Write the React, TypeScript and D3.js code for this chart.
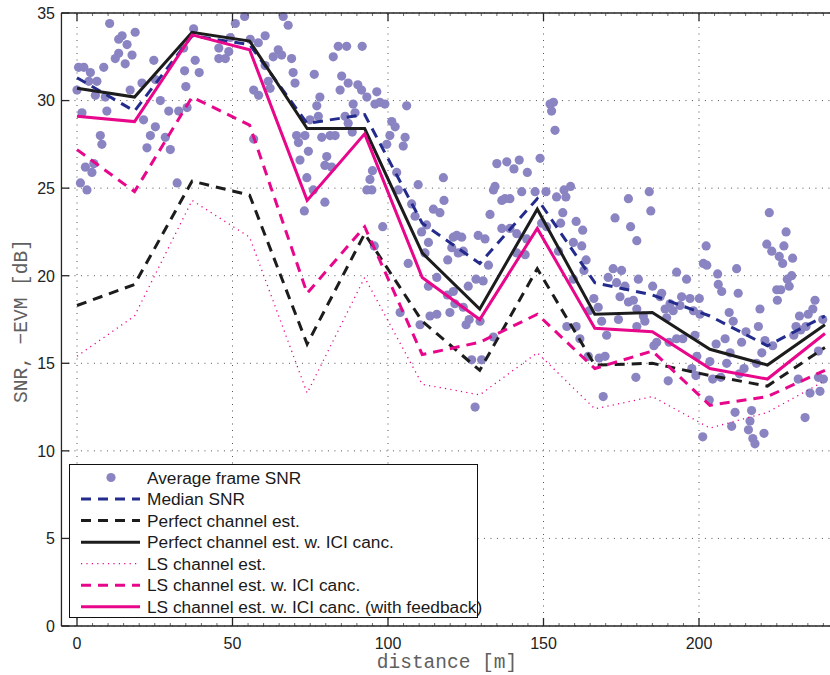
import React, { useEffect, useRef } from "react";
import * as d3 from "d3";

// measurement positions along the route [m]
const distances = [0, 18.5, 37, 55.5, 74, 92.5, 111, 129.5, 148, 166.5, 185, 203.5, 222, 240.5];

const medianSnr = [31.3, 29.4, 33.7, 33.2, 28.7, 29.2, 23.0, 20.7, 24.4, 19.6, 18.9, 17.7, 16.0, 17.7];
const perfectEst = [18.3, 19.5, 25.4, 24.6, 16.1, 22.4, 17.4, 14.6, 20.4, 14.9, 15.0, 14.3, 13.7, 15.9];
const perfectIci = [30.7, 30.2, 33.9, 33.4, 28.4, 28.4, 21.3, 18.1, 23.8, 17.8, 17.9, 15.8, 14.9, 17.2];
const lsEst = [15.4, 17.7, 24.3, 22.2, 13.3, 19.9, 13.8, 13.2, 15.6, 12.4, 13.1, 11.3, 12.2, 14.0];
const lsIci = [27.2, 24.8, 30.2, 28.6, 19.0, 22.8, 15.5, 16.2, 17.8, 14.7, 15.7, 12.6, 13.1, 14.6];
const lsIciFeedback = [29.1, 28.8, 33.75, 32.9, 24.3, 28.1, 19.9, 17.5, 22.7, 17.0, 16.8, 14.7, 14.1, 16.7];

// average frame SNR, [distance, snr]
const frameSnr: [number, number][] = [
  [10.5, 34.4], [18.7, 33.9], [14.5, 33.7], [13.4, 33.5], [16.1, 33.2], [13.4, 32.7], [17.7, 32.6],
  [12.3, 32.4], [15.5, 32.1], [0.5, 31.9], [2.2, 31.9], [8.6, 31.9], [4.3, 31.6], [6.4, 31.1],
  [3.8, 31.1], [0, 30.6], [5.9, 30.3], [9.1, 30.2], [1.6, 29.3], [9.6, 29.4], [7.5, 28.0],
  [8.0, 27.5], [2.7, 26.2], [5.4, 26.4], [4.8, 25.9], [1.1, 25.3], [3.2, 24.9], [17.1, 30.6],
  [20.9, 31.0], [24.7, 32.3], [25.2, 31.2], [26.8, 30.0], [21.4, 28.9], [25.2, 28.5], [23.6, 28.0],
  [22.5, 27.3], [28.4, 27.9], [30.0, 27.2], [29.5, 29.4], [32.7, 29.4], [35.4, 29.6], [32.2, 25.3],
  [34.6, 31.7], [35.0, 30.8], [38.0, 32.3], [39.3, 31.6], [37.5, 34.1], [34.3, 33.0], [45.6, 32.4],
  [47.7, 32.4], [45.6, 33.0], [48.8, 32.8], [50.9, 34.4], [53.9, 34.8], [49.3, 33.6], [55.7, 33.5],
  [56.8, 30.6], [58.4, 30.3], [56.8, 27.8],
  [66.3, 34.8], [67.9, 34.3], [60.5, 33.7], [58.3, 33.3], [64.7, 32.9], [63.1, 32.5], [65.8, 32.6],
  [69.0, 32.4], [60.5, 32.0], [69.5, 31.6], [76.3, 31.5], [70.1, 31.0], [61.5, 31.1], [62.1, 30.7],
  [84.0, 33.1], [86.7, 33.1], [91.7, 33.1], [82.4, 32.5], [85.1, 31.4], [87.2, 31.0], [84.6, 30.6],
  [90.3, 30.9], [91.5, 30.6], [93.2, 30.2], [96.4, 30.5], [97.4, 29.9], [95.8, 29.8], [99.0, 29.8],
  [106.0, 29.7], [88.8, 29.8], [78.1, 30.2], [77.1, 29.7], [89.4, 29.3], [86.2, 29.1], [77.6, 29.1],
  [74.9, 28.9], [87.2, 28.7], [101.2, 28.8], [102.3, 28.5], [100.6, 28.0], [105.5, 27.9], [104.9, 27.4],
  [99.6, 27.5], [70.6, 28.0], [73.3, 28.0], [71.2, 27.6], [78.7, 27.9], [81.4, 28.0], [83.0, 28.0],
  [88.5, 28.2], [74.4, 27.1], [71.7, 26.6], [80.3, 26.8], [79.7, 26.3], [81.9, 26.2], [95.0, 26.0],
  [94.2, 25.5], [93.2, 24.9], [94.8, 24.9], [73.9, 25.6], [76.0, 24.9], [79.7, 24.2], [73.1, 23.7],
  [102.8, 25.9], [109.7, 25.2], [117.8, 25.6], [103.3, 24.9], [118.0, 24.3], [107.6, 24.1],
  [108.7, 23.4], [114.6, 23.8], [116.7, 23.6], [112.4, 22.9], [110.8, 22.5], [113.0, 21.9],
  [111.9, 21.3], [121.0, 22.2], [98.3, 22.8], [95.6, 21.7], [106.5, 20.7], [119.2, 20.9],
  [115.7, 19.9], [113.0, 19.4], [119.9, 17.9], [115.7, 17.8], [113.5, 17.7], [110.3, 17.2], [103.9, 17.9],
  [153.2, 29.9], [152.1, 29.8], [152.6, 29.4], [153.7, 28.3], [148.9, 26.7], [142.2, 26.6],
  [138.2, 26.5], [135.0, 26.4], [140.5, 26.1], [144.8, 25.9], [134.4, 25.1], [133.9, 24.9],
  [143.0, 24.8], [147.3, 24.8], [150.8, 24.8], [156.6, 24.9], [158.7, 25.1], [154.2, 24.5],
  [157.2, 24.5], [136.6, 24.3], [139.2, 24.4], [137.6, 24.4], [132.8, 23.5], [156.2, 23.6],
  [155.5, 23.0], [160.5, 23.1], [162.6, 22.6], [177.3, 24.4], [173.0, 23.3], [178.0, 22.8],
  [180.0, 22.0], [136.6, 22.7], [139.2, 22.7], [129.0, 22.3], [131.2, 22.1], [122.1, 22.3],
  [123.7, 22.2], [120.5, 21.6], [124.2, 21.4], [122.6, 21.3], [141.4, 22.4], [144.6, 22.1],
  [141.4, 21.3], [144.1, 21.2], [149.4, 23.0], [151.0, 22.8], [154.8, 21.4], [159.6, 21.9],
  [162.3, 21.7], [163.7, 20.9], [163.0, 20.3], [159.6, 19.8], [132.3, 20.6], [128.3, 19.8],
  [130.6, 19.7], [125.8, 19.4], [121.0, 19.1], [119.1, 18.9], [121.5, 18.4], [124.2, 18.2],
  [126.1, 17.5], [125.1, 17.2], [129.6, 17.4], [133.9, 16.5], [126.9, 15.2], [130.1, 15.2],
  [128.0, 12.5], [172.4, 20.4], [175.1, 20.3], [170.8, 19.9], [173.5, 19.6], [176.2, 19.4],
  [174.6, 18.8], [177.3, 18.5], [178.9, 18.6], [180.5, 19.8], [166.2, 18.7], [167.6, 18.2],
  [164.7, 18.0], [157.5, 17.1], [160.5, 17.1], [161.7, 16.4], [164.4, 15.4], [167.9, 15.3],
  [169.8, 15.4], [170.3, 16.6], [168.7, 17.4], [174.1, 17.5], [179.7, 14.2], [169.2, 13.1], [180.0, 17.1],
  [184.0, 24.8], [184.5, 23.7], [222.6, 23.6], [228.0, 22.5], [221.8, 21.8], [223.4, 21.4],
  [227.3, 21.7], [225.8, 21.1], [226.9, 20.7], [230.1, 21.0], [202.3, 21.7], [201.4, 20.7],
  [202.5, 20.6], [212.1, 20.4], [206.0, 20.1], [192.8, 20.2], [196.0, 19.8], [185.1, 19.4],
  [206.2, 19.5], [207.3, 19.1], [212.6, 19.0], [229.8, 20.0], [229.0, 19.4], [228.4, 19.8],
  [225.0, 19.2], [226.3, 19.2], [225.2, 18.6], [188.0, 19.0], [187.5, 18.8], [194.4, 18.8],
  [197.1, 18.7], [200.1, 18.7], [190.7, 18.4], [191.7, 18.0], [189.1, 18.1], [193.9, 18.3],
  [198.2, 18.0], [180.0, 18.1], [182.1, 17.7], [200.3, 17.8], [209.7, 17.9], [211.0, 17.4],
  [189.6, 17.6], [182.6, 17.4], [237.3, 18.6], [236.6, 18.1], [235.1, 17.8], [232.3, 17.7],
  [239.8, 17.5], [231.2, 17.1], [234.4, 17.1], [232.7, 16.9], [219.6, 18.1], [219.1, 17.1],
  [198.7, 16.6], [192.8, 16.4], [194.8, 16.4], [186.4, 16.2], [185.5, 16.0], [190.4, 16.2],
  [215.1, 16.8], [213.7, 16.2], [205.5, 16.1], [221.2, 16.3], [223.7, 16.0], [230.5, 16.6],
  [208.4, 16.4], [210.0, 15.6], [220.2, 15.6], [199.3, 15.4], [208.9, 15.0], [203.5, 15.1],
  [218.5, 15.0], [214.5, 14.7], [238.4, 15.7], [238.4, 14.2], [240.0, 14.1], [231.9, 14.1],
  [197.7, 14.7], [199.0, 14.3], [204.4, 14.1], [207.0, 14.2], [213.0, 14.4], [190.1, 14.0],
  [235.7, 13.3], [238.9, 13.4], [203.3, 12.9], [216.9, 12.3], [211.6, 12.2], [216.4, 11.7],
  [210.5, 11.4], [215.9, 11.2], [217.3, 10.7], [220.9, 11.0], [218.0, 10.4], [201.2, 10.8], [234.1, 11.9],
];

const xTicks = [0, 50, 100, 150, 200];
const yTicks = [0, 5, 10, 15, 20, 25, 30, 35];

const PINK = "#e8068a";
const NAVY = "#232c8c";
const BLACK = "#1c1c1c";
const DOT = "#8a84c2";

const seriesDefs = [
  { name: "Median SNR", values: medianSnr, color: NAVY, width: 3, dash: "10,7" },
  { name: "Perfect channel est.", values: perfectEst, color: BLACK, width: 3, dash: "10,7" },
  { name: "Perfect channel est. w. ICI canc.", values: perfectIci, color: BLACK, width: 3, dash: null },
  { name: "LS channel est.", values: lsEst, color: PINK, width: 1.3, dash: "1.2,4.2" },
  { name: "LS channel est. w. ICI canc.", values: lsIci, color: PINK, width: 3, dash: "10,7" },
  { name: "LS channel est. w. ICI canc. (with feedback)", values: lsIciFeedback, color: PINK, width: 3, dash: null },
];

const FONT = "'Liberation Sans', Arial, Helvetica, sans-serif";
const MONO = "'Courier New', 'Liberation Mono', monospace";

const drawChart = (node: SVGSVGElement) => {
  const svg = d3.select(node);
  svg.selectAll("*").remove();

  const x = d3.scaleLinear().domain([-5, 245]).range([61.45, 838.95]);
  const y = d3.scaleLinear().domain([0, 35]).range([626, 13]);
  const [left, right] = x.range();

  // grid
  const grid = svg.append("g").attr("stroke", "#555").attr("stroke-width", 1).attr("stroke-dasharray", "1,5.5");
  xTicks.forEach(t => {
    grid.append("line").attr("x1", x(t)).attr("x2", x(t)).attr("y1", y(0)).attr("y2", y(35));
  });
  yTicks.forEach(t => {
    grid.append("line").attr("x1", left).attr("x2", right).attr("y1", y(t)).attr("y2", y(t));
  });

  // scatter
  svg
    .append("g")
    .selectAll("circle")
    .data(frameSnr)
    .enter()
    .append("circle")
    .attr("cx", d => x(d[0]))
    .attr("cy", d => y(d[1]))
    .attr("r", 4.6)
    .attr("fill", DOT);

  const line = d3
    .line<number>()
    .x((_, i) => x(distances[i]))
    .y(d => y(d));

  seriesDefs.forEach(s => {
    svg
      .append("path")
      .attr("d", line(s.values))
      .attr("fill", "none")
      .attr("stroke", s.color)
      .attr("stroke-width", s.width)
      .attr("stroke-dasharray", s.dash)
      .attr("stroke-linejoin", "miter");
  });

  // axes box
  const axis = svg.append("g").attr("stroke", "#262626").attr("stroke-width", 1.3);
  axis.append("line").attr("x1", left).attr("x2", right).attr("y1", y(0)).attr("y2", y(0));
  axis.append("line").attr("x1", left).attr("x2", right).attr("y1", y(35)).attr("y2", y(35));
  axis.append("line").attr("x1", left).attr("x2", left).attr("y1", y(0)).attr("y2", y(35));

  d3.range(-5, 246, 5).forEach(t => {
    const major = xTicks.includes(t);
    const len = major ? 8 : 3;
    axis.append("line").attr("x1", x(t)).attr("x2", x(t)).attr("y1", y(0)).attr("y2", y(0) - len)
      .attr("stroke-width", major ? 1.3 : 0.7);
    axis.append("line").attr("x1", x(t)).attr("x2", x(t)).attr("y1", y(35)).attr("y2", y(35) + len)
      .attr("stroke-width", major ? 1.3 : 0.7);
  });
  yTicks.forEach(t => {
    axis.append("line").attr("x1", left).attr("x2", left + 8).attr("y1", y(t)).attr("y2", y(t));
  });

  // tick labels
  svg
    .append("g")
    .selectAll("text")
    .data(yTicks)
    .enter()
    .append("text")
    .attr("x", 55)
    .attr("y", d => y(d) + 5.8)
    .attr("text-anchor", "end")
    .attr("font-family", FONT)
    .attr("font-size", 16)
    .attr("fill", "#222")
    .text(d => d);

  svg
    .append("g")
    .selectAll("text")
    .data(xTicks)
    .enter()
    .append("text")
    .attr("x", d => x(d))
    .attr("y", 649)
    .attr("text-anchor", "middle")
    .attr("font-family", FONT)
    .attr("font-size", 16)
    .attr("fill", "#222")
    .text(d => d);

  svg
    .append("text")
    .attr("x", 447)
    .attr("y", 668)
    .attr("text-anchor", "middle")
    .attr("font-family", MONO)
    .attr("font-size", 19.5)
    .attr("fill", "#606060")
    .text("distance [m]");

  svg
    .append("text")
    .attr("transform", "translate(27, 321) rotate(-90)")
    .attr("text-anchor", "middle")
    .attr("font-family", MONO)
    .attr("font-size", 19.5)
    .attr("fill", "#606060")
    .text("SNR, \u2212EVM [dB]");

  // legend
  const legend = svg.append("g");
  legend
    .append("rect")
    .attr("x", 69.5)
    .attr("y", 464.5)
    .attr("width", 408)
    .attr("height", 153)
    .attr("fill", "#fff")
    .attr("stroke", "#111")
    .attr("stroke-width", 1);

  const rowY = (i: number) => 477.5 + i * 21.55;
  legend.append("circle").attr("cx", 111).attr("cy", rowY(0)).attr("r", 4.6).attr("fill", DOT);
  legend
    .append("text")
    .attr("x", 147)
    .attr("y", rowY(0) + 6)
    .attr("font-family", FONT)
    .attr("font-size", 17.3)
    .attr("fill", "#1a1a1a")
    .text("Average frame SNR");

  seriesDefs.forEach((s, k) => {
    const i = k + 1;
    legend
      .append("line")
      .attr("x1", 81)
      .attr("x2", 140)
      .attr("y1", rowY(i))
      .attr("y2", rowY(i))
      .attr("stroke", s.color)
      .attr("stroke-width", s.width)
      .attr("stroke-dasharray", s.dash);
    legend
      .append("text")
      .attr("x", 147)
      .attr("y", rowY(i) + 6)
      .attr("font-family", FONT)
      .attr("font-size", 17.3)
      .attr("fill", "#1a1a1a")
      .text(s.name);
  });
};

function App() {
  const ref = useRef<SVGSVGElement>(null);

  useEffect(() => {
    if (ref.current) drawChart(ref.current);
  }, []);

  return (
    <svg
      ref={ref}
      width={830}
      height={675}
      style={{ position: "absolute", left: 0, top: 0, display: "block", background: "#fff" }}
    />
  );
}

export default App;
